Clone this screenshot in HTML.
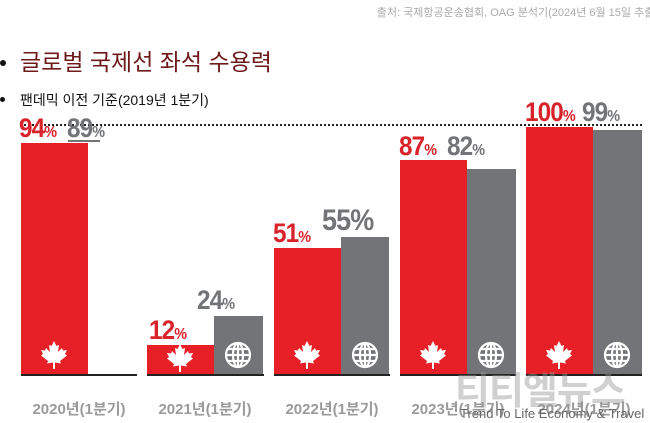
<!DOCTYPE html><html><head><meta charset="utf-8"><style>
body{margin:0;width:650px;height:423px;background:#fff;position:relative;overflow:hidden;font-family:"Liberation Sans","Noto Sans CJK KR",sans-serif}
.a{position:absolute}
.r{background:#e71f26;position:absolute}
.g{background:#737477;position:absolute}
.bl{position:absolute;height:2px;background:#222;top:374px}
.lab{position:absolute;font-weight:bold;font-size:27px;line-height:1;letter-spacing:-1px;transform:scaleX(0.9);transform-origin:left}
.lab small{font-size:16px}
.red{color:#d9232b}.gr{color:#737477}
.yr{position:absolute;top:398px;font-size:15px;font-weight:bold;color:#9a9a9a;width:116px;text-align:center}
</style></head><body>
<div class="a" style="right:-8px;top:4px;font-size:11px;color:#aaa">출처: 국제항공운송협회, OAG 분석기(2024년 6월 15일 추출)</div>
<div class="a" style="left:0;top:60px;width:6px;height:6px;background:#111;border-radius:50%"></div>
<div class="a" style="left:20px;top:43px;font-size:23px;color:#6e1a1a">글로벌 국제선 좌석 수용력</div>
<div class="a" style="left:0;top:97px;width:5px;height:5px;background:#111;border-radius:50%"></div>
<div class="a" style="left:20px;top:90px;font-size:14px;color:#111">팬데믹 이전 기준(2019년 1분기)</div>
<div class="a" style="left:20px;top:124px;width:622px;border-top:2px dotted #222"></div>

<div class="r" style="left:21px;top:143px;width:67px;height:232px"></div>
<div class="r" style="left:147px;top:345px;width:67px;height:30px"></div>
<div class="g" style="left:214px;top:316px;width:49px;height:59px"></div>
<div class="r" style="left:274px;top:248px;width:67px;height:127px"></div>
<div class="g" style="left:341px;top:237px;width:48px;height:138px"></div>
<div class="r" style="left:400px;top:160px;width:67px;height:215px"></div>
<div class="g" style="left:467px;top:169px;width:49px;height:206px"></div>
<div class="r" style="left:526px;top:127px;width:67px;height:248px"></div>
<div class="g" style="left:593px;top:130px;width:49px;height:245px"></div>
<div class="a" style="left:68px;top:140px;width:32px;height:2px;background:#737477"></div>

<div class="bl" style="left:21px;width:116px"></div>
<div class="bl" style="left:147px;width:117px"></div>
<div class="bl" style="left:274px;width:116px"></div>
<div class="bl" style="left:400px;width:116px"></div>
<div class="bl" style="left:526px;width:116px"></div>

<div class="lab red" style="left:19px;top:115px">94<small>%</small></div>
<div class="lab gr" style="left:67px;top:115px">89<small>%</small></div>
<div class="lab red" style="left:149px;top:317px">12<small>%</small></div>
<div class="lab gr" style="left:197px;top:287px">24<small>%</small></div>
<div class="lab red" style="left:273px;top:220px">51<small>%</small></div>
<div class="lab gr" style="left:322px;top:206px;font-size:30px">55%</div>
<div class="lab red" style="left:399px;top:133px">87<small>%</small></div>
<div class="lab gr" style="left:447px;top:133px">82<small>%</small></div>
<div class="lab red" style="left:525px;top:99px">100<small>%</small></div>
<div class="lab gr" style="left:582px;top:99px">99<small>%</small></div>

<svg width="0" height="0" style="position:absolute"><defs>
<symbol id="leaf" viewBox="0 0 28 30"><path fill="#fff" d="M14 1 L16.5 6 L19 5 L18 12 L22 8 L23 10.5 L27 10 L25 14 L27 15.5 L20 21 L21 23.5 L15 22.5 L15 29 L13 29 L13 22.5 L7 23.5 L8 21 L1 15.5 L3 14 L1 10 L5 10.5 L6 8 L10 12 L9 5 L11.5 6 Z"/></symbol>
<symbol id="globe" viewBox="0 0 28 28"><g fill="none" stroke="#fff" stroke-width="2.2"><circle cx="14" cy="14" r="12"/><ellipse cx="14" cy="14" rx="5" ry="12"/><line x1="14" y1="2" x2="14" y2="26"/><line x1="2" y1="14" x2="26" y2="14"/><line x1="4" y1="8" x2="24" y2="8"/><line x1="4" y1="20" x2="24" y2="20"/></g></symbol>
</defs></svg>
<svg class="a" style="left:40px;top:340px" width="28" height="30"><use href="#leaf"/></svg>
<svg class="a" style="left:166px;top:343px" width="28" height="30"><use href="#leaf"/></svg>
<svg class="a" style="left:293px;top:340px" width="28" height="30"><use href="#leaf"/></svg>
<svg class="a" style="left:419px;top:340px" width="28" height="30"><use href="#leaf"/></svg>
<svg class="a" style="left:545px;top:340px" width="28" height="30"><use href="#leaf"/></svg>
<svg class="a" style="left:224px;top:341px" width="28" height="28"><use href="#globe"/></svg>
<svg class="a" style="left:351px;top:341px" width="28" height="28"><use href="#globe"/></svg>
<svg class="a" style="left:477px;top:341px" width="28" height="28"><use href="#globe"/></svg>
<svg class="a" style="left:603px;top:341px" width="28" height="28"><use href="#globe"/></svg>

<div class="yr" style="left:21px">2020년(1분기)</div>
<div class="yr" style="left:147px">2021년(1분기)</div>
<div class="yr" style="left:274px">2022년(1분기)</div>
<div class="yr" style="left:400px">2023년(1분기)</div>
<div class="yr" style="left:526px">2024년(1분기)</div>
<div class="a" style="left:455px;top:360px;font-size:38px;font-weight:bold;color:rgba(150,150,150,0.45);letter-spacing:-1px">티티엘뉴스</div>
<div class="a" style="left:460px;top:406px;font-size:13px;color:#666;white-space:nowrap">Trend To Life Economy &amp; Travel</div>
</body></html>
